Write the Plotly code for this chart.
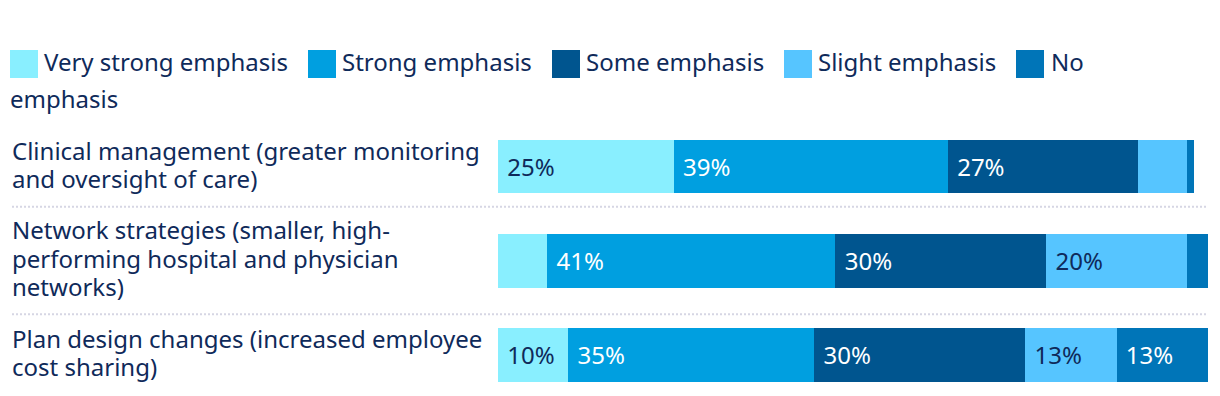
import plotly.graph_objects as go

# ---- data ----
categories = [
    "Clinical management (greater monitoring and oversight of care)",
    "Network strategies (smaller, high-performing hospital and physician networks)",
    "Plan design changes (increased employee cost sharing)",
]
category_lines = [
    ["Clinical management (greater monitoring", "and oversight of care)"],
    ["Network strategies (smaller, high-", "performing hospital and physician", "networks)"],
    ["Plan design changes (increased employee", "cost sharing)"],
]
series_names = ["Very strong emphasis", "Strong emphasis", "Some emphasis", "Slight emphasis", "No emphasis"]
very_strong = [25, 7, 10]
strong = [39, 41, 35]
some = [27, 30, 30]
slight = [7, 20, 13]
no_emphasis = [1, 3, 13]
series_values = [very_strong, strong, some, slight, no_emphasis]

# ---- style ----
W, H = 1220, 396
OFF = 8  # page body margin
FONT = "Noto Sans"
FS = 24
NAVY = "#0f2a5a"
colors = ["#89EFFF", "#009FE0", "#00558F", "#56C5FF", "#0075B8"]
text_colors = [NAVY, "white", "white", NAVY, "white"]
LABEL_MIN = 10

def px(x):  # screen px -> paper
    return (x - OFF) / W

def py(y):
    return 1 - (y - OFF) / H

fig = go.Figure()
for name, vals, col, tcol in zip(series_names, series_values, colors, text_colors):
    fig.add_trace(go.Bar(
        y=categories, x=vals, name=name, orientation="h",
        marker=dict(color=col, line=dict(width=0)),
        text=["\u00a0" + f"{v}%" if v >= LABEL_MIN else "" for v in vals],
        textposition="inside", insidetextanchor="start",
        textfont=dict(family=FONT, size=FS, color=tcol),
        constraintext="none",
        width=0.57, showlegend=False, hoverinfo="skip",
    ))

plot_top = 120  # screen px
fig.update_layout(
    width=W, height=H, barmode="stack",
    margin=dict(l=0, r=0, t=0, b=0),
    paper_bgcolor="white", plot_bgcolor="white",
    font=dict(family=FONT, color=NAVY),
    showlegend=False,
    uniformtext=dict(mode=False),
    xaxis=dict(domain=[px(498), px(1208)], range=[0, 101], visible=False, fixedrange=True),
    yaxis=dict(domain=[0, py(plot_top)], type="category",
               categoryorder="array", categoryarray=categories,
               range=[2.522, -0.496], visible=False, fixedrange=True),
)

# category labels (left aligned, one annotation per line for tighter leading)
LINE_H = 28.3
BASE_SHIFT = 2.5
for cat, lines in zip(categories, category_lines):
    n = len(lines)
    for i, line in enumerate(lines):
        fig.add_annotation(
            x=px(9.5), xref="paper", y=cat, yref="y",
            text=line, showarrow=False,
            xanchor="left", yanchor="middle", align="left",
            yshift=-((i - (n - 1) / 2) * LINE_H) + BASE_SHIFT,
            font=dict(family=FONT, size=FS, color=NAVY),
        )

# dotted separators
for sep_y in [206.7, 314.3]:
    fig.add_shape(type="line", xref="paper", yref="paper",
                  x0=px(12), x1=px(1208), y0=py(sep_y), y1=py(sep_y),
                  line=dict(color="#d6d6e4", width=2, dash="2px,2px"))

# legend (custom, wrapping like the reference)
leg_sq_x = [10, 308, 552, 784, 1016]
leg_txt_x = [42, 340, 584, 816, 1049]
leg_labels = ["Very strong emphasis", "Strong emphasis", "Some emphasis", "Slight emphasis", "No"]
for sx, tx, lab, col in zip(leg_sq_x, leg_txt_x, leg_labels, colors):
    fig.add_shape(type="rect", xref="paper", yref="paper",
                  x0=px(sx), x1=px(sx + 28), y0=py(50), y1=py(78),
                  fillcolor=col, line=dict(width=0))
    fig.add_annotation(x=px(tx), xref="paper", y=py(61), yref="paper",
                       text=lab, showarrow=False, xanchor="left", yanchor="middle",
                       font=dict(family=FONT, size=FS, color=NAVY))
fig.add_annotation(x=px(8), xref="paper", y=py(98), yref="paper",
                   text="emphasis", showarrow=False, xanchor="left", yanchor="middle",
                   font=dict(family=FONT, size=FS, color=NAVY))

fig.write_html("out.html")
